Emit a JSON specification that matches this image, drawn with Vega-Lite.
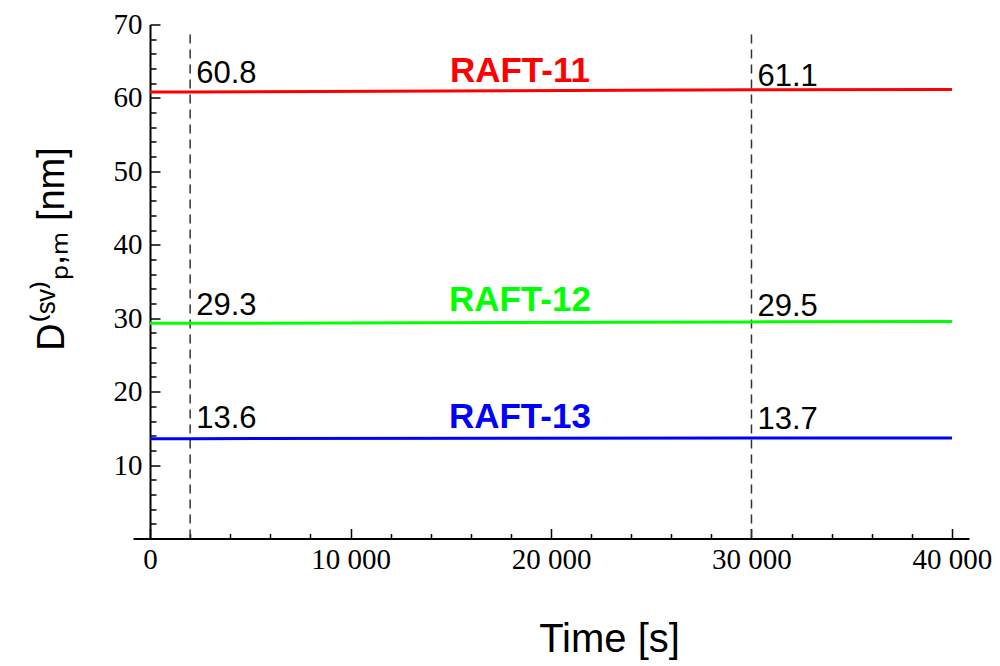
{
  "$schema": "https://vega.github.io/schema/vega-lite/v6.json",
  "width": 836,
  "height": 514,
  "autosize": {"type": "none"},
  "padding": {"left": 133, "top": 24.5, "right": 31, "bottom": 127.5},
  "background": "white",
  "config": {"view": {"stroke": null}},
  "datasets": {
    "series": [
      {"sample": "RAFT-11", "t": 0, "v": 60.8},
      {"sample": "RAFT-11", "t": 2000, "v": 60.8},
      {"sample": "RAFT-11", "t": 30000, "v": 61.1},
      {"sample": "RAFT-11", "t": 40000, "v": 61.15},
      {"sample": "RAFT-12", "t": 0, "v": 29.3},
      {"sample": "RAFT-12", "t": 2000, "v": 29.3},
      {"sample": "RAFT-12", "t": 30000, "v": 29.5},
      {"sample": "RAFT-12", "t": 40000, "v": 29.55},
      {"sample": "RAFT-13", "t": 0, "v": 13.6},
      {"sample": "RAFT-13", "t": 2000, "v": 13.6},
      {"sample": "RAFT-13", "t": 30000, "v": 13.7},
      {"sample": "RAFT-13", "t": 40000, "v": 13.7}
    ],
    "marks": [
      {"t": 2000, "v": 0, "v2": 69.3},
      {"t": 30000, "v": 0, "v2": 69.3}
    ],
    "values": [
      {"t": 2300, "v": 62.0, "label": "60.8"},
      {"t": 30300, "v": 61.6, "label": "61.1"},
      {"t": 2300, "v": 30.4, "label": "29.3"},
      {"t": 30300, "v": 30.3, "label": "29.5"},
      {"t": 2300, "v": 15.05, "label": "13.6"},
      {"t": 30300, "v": 14.9, "label": "13.7"}
    ],
    "names": [
      {"sample": "RAFT-11", "t": 18450, "v": 62.2},
      {"sample": "RAFT-12", "t": 18450, "v": 31.0},
      {"sample": "RAFT-13", "t": 18450, "v": 15.05}
    ]
  },
  "encoding": {
    "x": {
      "field": "t",
      "type": "quantitative",
      "scale": {"domain": [-850, 40850], "nice": false, "zero": false},
      "axis": {
        "title": "Time [s]",
        "titleFont": "Liberation Sans",
        "titleFontSize": 40,
        "titleFontWeight": "normal",
        "titleColor": "black",
        "titleX": 476,
        "titleY": 113,
        "titleAlign": "center",
        "titleBaseline": "alphabetic",
        "values": [0, 2000, 4000, 6000, 8000, 10000, 12000, 14000, 16000, 18000, 20000, 22000, 24000, 26000, 28000, 30000, 32000, 34000, 36000, 38000, 40000],
        "labelExpr": "datum.value % 10000 === 0 ? replace(format(datum.value, ','), ',', ' ') : ''",
        "labelFont": "Liberation Serif",
        "labelFontSize": {"condition": {"test": "datum.value % 10000 === 0", "value": 29}, "value": 29},
        "labelColor": "black",
        "labelPadding": 17,
        "labelFlush": false,
        "labelOverlap": false,
        "tickSize": {"condition": {"test": "datum.value % 10000 === 0", "value": -10}, "value": -5},
        "tickColor": "black",
        "tickWidth": 1.5,
        "domainColor": "black",
        "domainWidth": 2,
        "grid": false
      }
    },
    "y": {
      "field": "v",
      "type": "quantitative",
      "scale": {"domain": [0, 70], "nice": false, "zero": false},
      "axis": {
        "title": "D⁽ˢᵛ⁾ₚ,ₘ    [nm]",
        "titleFont": "Liberation Sans",
        "titleFontSize": 38,
        "titleFontWeight": "normal",
        "titleColor": "black",
        "titleX": -87,
        "titleY": 224,
        "titleAlign": "center",
        "titleBaseline": "alphabetic",
        "titleAngle": -90,
        "offset": -17,
        "values": [2, 4, 6, 8, 10, 12, 14, 16, 18, 20, 22, 24, 26, 28, 30, 32, 34, 36, 38, 40, 42, 44, 46, 48, 50, 52, 54, 56, 58, 60, 62, 64, 66, 68, 70],
        "labelExpr": "datum.value % 10 === 0 ? format(datum.value, 'd') : ''",
        "labelFont": "Liberation Serif",
        "labelFontSize": {"condition": {"test": "datum.value % 10 === 0", "value": 29}, "value": 29},
        "labelColor": "black",
        "labelPadding": 18,
        "labelOverlap": false,
        "tickSize": {"condition": {"test": "datum.value % 10 === 0", "value": -10}, "value": -6},
        "tickColor": "black",
        "tickWidth": 1.5,
        "domainColor": "black",
        "domainWidth": 2,
        "grid": false
      }
    }
  },
  "layer": [
    {
      "data": {"name": "marks"},
      "mark": {"type": "rule", "color": "#333333", "strokeWidth": 1.5, "strokeDash": [9, 6]},
      "encoding": {"y2": {"field": "v2"}}
    },
    {
      "data": {"name": "series"},
      "mark": {"type": "line", "strokeWidth": 3},
      "encoding": {
        "color": {
          "field": "sample",
          "type": "nominal",
          "scale": {"domain": ["RAFT-11", "RAFT-12", "RAFT-13"], "range": ["#ff0000", "#00ff00", "#0000ff"]},
          "legend": null
        }
      }
    },
    {
      "data": {"name": "values"},
      "mark": {"type": "text", "align": "left", "baseline": "alphabetic", "font": "Liberation Sans", "fontSize": 31, "color": "black"},
      "encoding": {"text": {"field": "label"}}
    },
    {
      "data": {"name": "names"},
      "mark": {"type": "text", "align": "center", "baseline": "alphabetic", "font": "Liberation Sans", "fontSize": 35, "fontWeight": "bold"},
      "encoding": {
        "text": {"field": "sample"},
        "color": {
          "field": "sample",
          "type": "nominal",
          "scale": {"domain": ["RAFT-11", "RAFT-12", "RAFT-13"], "range": ["#ff0000", "#00ff00", "#0000ff"]},
          "legend": null
        }
      }
    }
  ]
}
